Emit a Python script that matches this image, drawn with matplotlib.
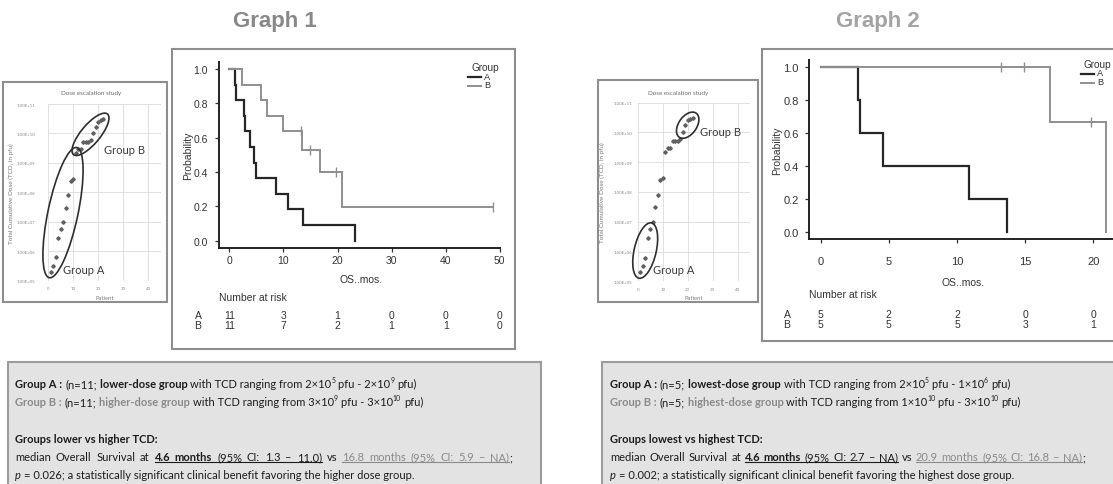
import numpy as np
import matplotlib
matplotlib.use("Agg")
import matplotlib.pyplot as plt
from matplotlib.patches import Rectangle, Ellipse
from matplotlib.lines import Line2D
from matplotlib.ticker import NullLocator
from matplotlib.transforms import IdentityTransform, blended_transform_factory

# ---------------------------------------------------------------- data
# total cumulative dose (pfu) received by each patient of the escalation study
patient_no = list(range(1, 23))
tcd_pfu = [2.0e5, 3.2e5, 6.2e5, 2.9e6, 5.8e6, 1.0e7, 3.0e7, 8.0e7, 2.5e8, 2.9e8,
           2.1e9, 2.9e9, 2.9e9, 5.0e9, 5.0e9, 5.0e9, 6.0e9, 1.0e10, 1.7e10,
           2.5e10, 2.8e10, 3.0e10]

# patient membership of the dose groups
g1_group_a = patient_no[:11]
g1_group_b = patient_no[11:]
g2_group_a = patient_no[:5]
g2_group_b = patient_no[-5:]

# overall survival in months; death = 1, censored = 0
g1_a_os = [1.0, 1.2, 2.7, 2.9, 3.9, 4.6, 4.9, 8.6, 10.9, 13.7, 23.2]
g1_a_death = [1, 1, 1, 1, 1, 1, 1, 1, 1, 1, 1]
g1_b_os = [2.3, 5.8, 7.0, 9.9, 13.2, 13.4, 14.9, 16.8, 19.8, 20.9, 48.8]
g1_b_death = [1, 1, 1, 1, 0, 1, 0, 1, 0, 1, 0]
g2_a_os = [2.7, 2.9, 4.6, 10.9, 13.7]
g2_a_death = [1, 1, 1, 1, 1]
g2_b_os = [13.2, 14.9, 16.8, 19.8, 20.9]
g2_b_death = [0, 0, 1, 0, 1]

group_names = ["A", "B"]
g1_risk_times = [0, 10, 20, 30, 40, 50]
g2_risk_times = [0, 5, 10, 15, 20]
prob_ticks = [0.0, 0.2, 0.4, 0.6, 0.8, 1.0]

# ---------------------------------------------------------------- styling
W, H = 1113, 485
KM_FONT = ["Liberation Sans", "DejaVu Sans"]
BOX_FONT = ["Lato", "DejaVu Sans"]
INK = "#1c1c1c"
GREY_TXT = "#8a8a8a"
COL_A = "#262626"
COL_B = "#8f8f8f"
PT = 72 / 100  # points per pixel

fig = plt.figure(figsize=(W / 100, H / 100), dpi=100)
fig.patch.set_facecolor("white")
renderer = fig.canvas.get_renderer()


def frac_rect(x0, y0, x1, y1):
    return [x0 / W, 1 - y1 / H, (x1 - x0) / W, (y1 - y0) / H]


def ftext(x, y, s, **kw):
    return fig.text(x / W, 1 - y / H, s, **kw)


def frame(x0, y0, x1, y1, fc, ec, lw):
    fig.add_artist(Rectangle((x0 / W, 1 - y1 / H), (x1 - x0) / W, (y1 - y0) / H,
                             transform=fig.transFigure, facecolor=fc,
                             edgecolor=ec, linewidth=lw, zorder=-5))


def fline(x0, x1, y, color, lw):
    fig.add_artist(Line2D([x0 / W, x1 / W], [1 - y / H, 1 - y / H],
                          transform=fig.transFigure, color=color, lw=lw))


# ---------------------------------------------------------------- dose panels
def dose_panel(x0, y0, x1, y1, title_x, ylab_x, pad, groups, tags):
    ax = fig.add_axes(frac_rect(x0, y0, x1, y1))
    ax.set_facecolor("none")
    ax.set_yscale("log")
    ax.set_xlim(0, 45)
    ax.set_ylim(1e5, 1e11)
    ax.set_xticks([0, 10, 20, 30, 40])
    ax.set_yticks([10.0 ** k for k in range(5, 12)])
    ax.set_yticklabels(["1.00E+%02d" % k for k in range(5, 12)])
    ax.yaxis.set_minor_locator(NullLocator())
    ax.grid(True, color="#dcdcdc", lw=0.6)
    ax.set_axisbelow(True)
    for s in ax.spines.values():
        s.set_visible(False)
    ax.tick_params(length=0, labelsize=3.2, labelcolor="#8a8a8a")
    ax.tick_params(axis="y", pad=pad)
    ax.tick_params(axis="x", pad=4)
    for lab in ax.get_xticklabels() + ax.get_yticklabels():
        lab.set_family(BOX_FONT)
    ax.plot(patient_no, tcd_pfu, ls="none", marker="D", ms=1.8,
            color="#606060", mec="#606060")
    ftext(title_x, 93, "Dose escalation study", fontsize=4.5, color="#6e6e6e",
          ha="center", va="center", family=BOX_FONT)
    ftext(ylab_x, (y0 + y1) / 2, "Total Cumulative Dose (TCD, in pfu)",
          fontsize=4.6, color="#7a7a7a", rotation=90, ha="center",
          va="center", family=BOX_FONT)
    ftext((x0 + x1) / 2, 299, "Patient", fontsize=4.2, color="#7a7a7a",
          ha="center", va="center", family=BOX_FONT)
    # circle each group of patients
    for members, pad_px, width_px in groups:
        xs = [patient_no[i - 1] for i in members]
        ys = [tcd_pfu[i - 1] for i in members]
        pts = ax.transData.transform(np.column_stack([xs, ys]))
        p0, p1 = pts[0], pts[-1]
        d = p1 - p0
        length = np.hypot(*d) + 2 * pad_px
        ang = np.degrees(np.arctan2(d[1], d[0]))
        fig.add_artist(Ellipse((p0 + p1) / 2, length, width_px, angle=ang,
                               transform=IdentityTransform(), fill=False,
                               ec="#2e2e2e", lw=1.2, zorder=4))
    for tx, ty, s in tags:
        ftext(tx, ty, s, fontsize=8, color="#3c3c3c", ha="left",
              va="center", family=BOX_FONT)
    return ax


# ---------------------------------------------------------------- KM panels
def km_steps(times, deaths):
    order = np.argsort(times, kind="stable")
    t = np.asarray(times, float)[order]
    e = np.asarray(deaths)[order]
    n = len(t)
    s = 1.0
    xs, ys, cx, cy = [0.0], [1.0], [], []
    for i, (ti, ei) in enumerate(zip(t, e)):
        at_risk = n - i
        if ei:
            s *= (at_risk - 1) / at_risk
        else:
            cx.append(ti)
            cy.append(s)
        xs.append(ti)
        ys.append(s)
    return xs, ys, cx, cy


def km_panel(x_zero, px_month, y_zero, px_unit, arms, xticks, spine_end,
             risk_times, fs, fs_tick, xpad, ylab_x, risk_lab_x, rows_y,
             legend):
    t_max = max(max(a[0]) for a in arms)
    xlim = (-0.04 * t_max, 1.04 * t_max)
    ylim = (-0.04, 1.04)
    x0 = x_zero + xlim[0] * px_month
    x1 = x_zero + xlim[1] * px_month
    y_top = y_zero - ylim[1] * px_unit
    y_bot = y_zero - ylim[0] * px_unit
    ax = fig.add_axes(frac_rect(x0, y_top, x1, y_bot))
    ax.set_facecolor("none")
    for times, deaths, col, lw in arms:
        xs, ys, cx, cy = km_steps(times, deaths)
        ax.step(xs, ys, where="post", color=col, lw=lw, solid_joinstyle="miter")
        ax.plot(cx, cy, ls="none", marker="|", ms=7, mew=1.0, color=col)
    ax.set_xlim(*xlim)
    ax.set_ylim(*ylim)
    ax.set_xticks(xticks)
    ax.set_yticks(prob_ticks)
    ax.set_yticklabels(["%.1f" % v for v in prob_ticks])
    ax.spines["top"].set_visible(False)
    ax.spines["right"].set_visible(False)
    for side in ("left", "bottom"):
        ax.spines[side].set_linewidth(1.4)
        ax.spines[side].set_color("#222222")
    ax.spines["bottom"].set_bounds(xlim[0], spine_end)
    ax.tick_params(direction="out", length=3, width=0.9, color="#333333",
                   labelsize=fs_tick, labelcolor="#333333")
    ax.tick_params(axis="y", pad=4.6)
    ax.tick_params(axis="x", pad=xpad)
    for lab in ax.get_xticklabels() + ax.get_yticklabels():
        lab.set_family(KM_FONT)
    os_y, nar_y, ra_y, rb_y = rows_y
    ftext((x0 + x1) / 2, os_y, "OS..mos.", fontsize=fs, color="#333333",
          ha="center", va="center", family=KM_FONT)
    ftext(ylab_x, (y_top + y_bot) / 2, "Probability", fontsize=fs,
          color="#333333", rotation=90, ha="center", va="center",
          family=KM_FONT)
    # number at risk table
    ftext(x0, nar_y, "Number at risk", fontsize=fs, color="#333333",
          ha="left", va="center", family=KM_FONT)
    trans = blended_transform_factory(ax.transData, fig.transFigure)
    for yrow, (times, deaths, col, lw), name in zip((ra_y, rb_y), arms, group_names):
        ftext(risk_lab_x, yrow, name, fontsize=fs, color="#333333",
              ha="center", va="center", family=KM_FONT)
        for t in risk_times:
            n = int(np.sum(np.asarray(times) >= t))
            ax.text(t, 1 - yrow / H, str(n), transform=trans, fontsize=fs,
                    color="#333333", ha="center", va="center",
                    family=KM_FONT, clip_on=False)
    # legend
    lx, ly = legend
    ftext(lx + 3, ly, "Group", fontsize=fs - 0.3, color="#333333", ha="left",
          va="center", family=KM_FONT)
    for k, ((times, deaths, col, lw), name) in enumerate(zip(arms, group_names)):
        yy = ly + 10 + k * 8.5
        fline(lx, lx + 13, yy, col, lw)
        ftext(lx + 16, yy - 1, name, fontsize=fs - 0.8, color="#333333",
              ha="left", va="center", family=KM_FONT)
    return ax


# ---------------------------------------------------------------- rich text
_adv_cache = {}


def style_kw(st, size):
    sz = size * 0.62 if st.get("sup") else size
    return dict(fontsize=sz, family=BOX_FONT, color=st.get("c", INK),
                fontweight="bold" if st.get("b") else "normal",
                fontstyle="italic" if st.get("i") else "normal")


def advance(s, kw):
    """Horizontal advance of a string, spaces included (bar sentinels)."""
    key = (s, kw["fontsize"], kw["fontweight"], kw["fontstyle"])
    if key not in _adv_cache:
        a = fig.text(0, 0, "|" + s + "|", **kw)
        b = fig.text(0, 0, "||", **kw)
        _adv_cache[key] = (a.get_window_extent(renderer).width
                           - b.get_window_extent(renderer).width)
        a.remove()
        b.remove()
    return _adv_cache[key]


def lay_line(x, y, segs, size, extra, draw, by_word):
    """Place one line of styled runs; returns end x and number of gaps.

    Runs are drawn whole unless the line is stretched, in which case each
    word is placed separately so the spare width goes into the spaces."""
    gaps = 0
    for s, st in segs:
        kw = style_kw(st, size)
        sp = advance(" ", kw) + extra
        dy = size * 0.42 / PT if st.get("sup") else 0
        x_start = x
        if not by_word:
            lead = len(s) - len(s.lstrip(" "))
            core = s.strip(" ")
            trail = len(s) - len(s.rstrip(" "))
            x += lead * sp
            if draw and core:
                ftext(x, y - dy, core, va="baseline", ha="left", **kw)
            x += advance(core, kw) if core else 0
            x_word_end = x
            x += trail * sp
        else:
            words = s.split(" ")
            x_word_end = x
            for j, w in enumerate(words):
                if j > 0:
                    x += sp
                    gaps += 1
                if w:
                    if draw:
                        ftext(x, y - dy, w, va="baseline", ha="left", **kw)
                    x += advance(w, kw)
                    x_word_end = x
        if draw and st.get("u"):
            fline(x_start, x_word_end, y + 2.2, st.get("c", INK), 0.8)
    return x, gaps


def rich_line(x, y, segs, size, justify_to=None):
    if justify_to is None:
        lay_line(x, y, segs, size, 0.0, True, False)
        return
    end, gaps = lay_line(x, y, segs, size, 0.0, False, True)
    extra = max(0.0, (justify_to - end) / gaps) if gaps else 0.0
    lay_line(x, y, segs, size, extra, True, True)


R = {}
B = {"b": True}
G = {"b": True, "c": GREY_TXT}
S = {"sup": True}
BU = {"b": True, "u": True}
RU = {"u": True}
GU = {"u": True, "c": GREY_TXT}
I = {"i": True}

box1_lines = [
    [("Group A :", B), (" (n=11; ", R), ("lower-dose group", B),
     (" with TCD ranging from 2\u00d710", R), ("5", S), (" pfu - 2\u00d710", R),
     ("9", S), (" pfu)", R)],
    [("Group B :", G), (" (n=11; ", R), ("higher-dose group", G),
     (" with TCD ranging from 3\u00d710", R), ("9", S), (" pfu - 3\u00d710", R),
     ("10", S), (" pfu)", R)],
    [("Groups lower vs higher TCD:", B)],
    [("median Overall Survival at ", R), ("4.6 months", BU),
     (" (95% CI: 1.3 \u2013 11.0)", RU), (" vs ", R),
     ("16.8 months (95% CI: 5.9 \u2013 NA)", GU), (";", R)],
    [("p", I), (" = 0.026; a statistically significant clinical benefit "
                "favoring the higher dose group.", R)],
]
box2_lines = [
    [("Group A :", B), (" (n=5; ", R), ("lowest-dose group", B),
     (" with TCD ranging from 2\u00d710", R), ("5", S), (" pfu - 1\u00d710", R),
     ("6", S), (" pfu)", R)],
    [("Group B :", G), (" (n=5; ", R), ("highest-dose group", G),
     (" with TCD ranging from 1\u00d710", R), ("10", S), (" pfu - 3\u00d710", R),
     ("10", S), (" pfu)", R)],
    [("Groups lowest vs highest TCD:", B)],
    [("median Overall Survival at ", R), ("4.6 months", BU),
     (" (95% CI: 2.7 \u2013 NA)", RU), (" vs ", R),
     ("20.9 months (95% CI: 16.8 \u2013 NA)", GU), (";", R)],
    [("p", I), (" = 0.002; a statistically significant clinical benefit "
                "favoring the highest dose group.", R)],
]
line_y = [388, 406, 443, 461, 479]
JUSTIFIED_LINE = 3  # first line of the closing paragraph is justified

# ---------------------------------------------------------------- layout
ftext(275, 21, "Graph 1", fontsize=16, fontweight="bold", color="#888888",
      ha="center", va="center", family=KM_FONT)
ftext(878, 21, "Graph 2", fontsize=16, fontweight="bold", color="#a3a3a3",
      ha="center", va="center", family=KM_FONT)

# frames
frame(3, 83, 167, 303, "white", "#8e8e8e", 1.5)
frame(172, 50, 515, 350, "white", "#8e8e8e", 1.5)
frame(598, 81, 758, 303, "white", "#8e8e8e", 1.5)
frame(762, 50, 1125, 342, "white", "#8e8e8e", 1.5)
frame(8, 363, 541, 495, "#e3e3e3", "#9c9c9c", 1.5)
frame(602, 363, 1125, 495, "#e3e3e3", "#9c9c9c", 1.5)

# dose escalation scatter panels
dose_panel(48, 105, 160.5, 281.7, 91, 11, 9,
           [(g1_group_a, 6, 30), (g1_group_b, 7, 19)],
           [(63, 271, "Group A"), (104, 151, "Group B")])
dose_panel(637.7, 103.5, 750.2, 282.3, 678, 602, 4,
           [(g2_group_a, 6, 22), (g2_group_b, 6, 18)],
           [(653, 271, "Group A"), (700, 133, "Group B")])

# survival panels
km_panel(229.3, 5.41, 241.7, 171.7,
         [(g1_a_os, g1_a_death, COL_A, 1.6), (g1_b_os, g1_b_death, COL_B, 1.4)],
         [0, 10, 20, 30, 40, 50], 50, g1_risk_times, 7.5, 7.5, 2.4, 188, 198,
         (280, 298, 316, 326), (468, 68))
km_panel(820.7, 13.63, 233.3, 165.6,
         [(g2_a_os, g2_a_death, COL_A, 1.6), (g2_b_os, g2_b_death, COL_B, 1.4)],
         [0, 5, 10, 15, 20], 30, g2_risk_times, 7.5, 8, 9.0, 777, 787,
         (283, 295, 315, 325), (1081, 65))

for k, (y, segs) in enumerate(zip(line_y, box1_lines)):
    rich_line(15, y, segs, 8.05, 512 if k == JUSTIFIED_LINE else None)
for k, (y, segs) in enumerate(zip(line_y, box2_lines)):
    rich_line(610, y, segs, 8.05, 1085 if k == JUSTIFIED_LINE else None)

fig.savefig("out.png", dpi=100, facecolor="white")
